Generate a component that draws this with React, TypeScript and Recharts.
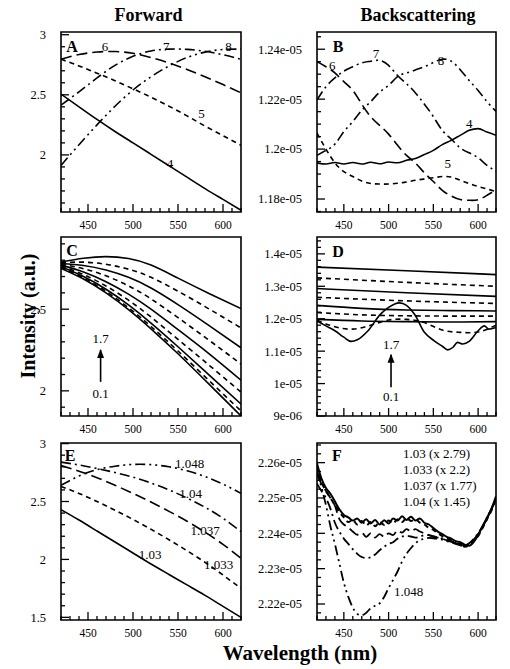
import React from 'react';
import { LineChart, Line, XAxis, YAxis, ReferenceArea, ReferenceDot, ReferenceLine } from 'recharts';

const FONT = "'Liberation Serif', 'Times New Roman', serif";
const TM = 2;

// ---------- shared x axis ----------
const xTicks = [420, 430, 440, 450, 460, 470, 480, 490, 500, 510, 520, 530, 540, 550, 560, 570, 580, 590, 600, 610, 620];
const xMajor = [450, 500, 550, 600];

const nm20 = [420, 440, 460, 480, 500, 520, 540, 560, 580, 600, 620];
const nm10 = [420, 430, 440, 450, 460, 470, 480, 490, 500, 510, 520, 530, 540, 550, 560, 570, 580, 590, 600, 610, 620];
const nm5 = [420, 425, 430, 435, 440, 445, 450, 455, 460, 465, 470, 475, 480, 485, 490, 495, 500, 505, 510, 515, 520, 525, 530, 535, 540, 545, 550, 555, 560, 565, 570, 575, 580, 585, 590, 595, 600, 605, 610, 615, 620];

// ---------- Panel A (forward) ----------
const aYMajor = [2, 2.5, 3];
const aYLabels = ['2', '2.5', '3'];
const aYMinor = [1.6, 1.7, 1.8, 1.9, 2.1, 2.2, 2.3, 2.4, 2.6, 2.7, 2.8, 2.9];
const a4 = [2.506, 2.40, 2.295, 2.195, 2.10, 2.005, 1.91, 1.815, 1.72, 1.63, 1.54];
const a5 = [2.796, 2.74, 2.68, 2.617, 2.55, 2.48, 2.405, 2.325, 2.24, 2.16, 2.08];
const a6 = [2.796, 2.835, 2.856, 2.86, 2.845, 2.81, 2.765, 2.71, 2.65, 2.585, 2.516];
const a7 = [2.414, 2.525, 2.64, 2.745, 2.82, 2.865, 2.88, 2.878, 2.862, 2.833, 2.796];
const a8 = [1.913, 2.085, 2.25, 2.405, 2.54, 2.65, 2.74, 2.81, 2.855, 2.877, 2.88];

// ---------- Panel B (backscattering, x1e-5) ----------
const bYMajor = [1.18, 1.2, 1.22, 1.24];
const bYLabels = ['1.18e-05', '1.2e-05', '1.22e-05', '1.24e-05'];
const bYMinor = [1.175, 1.185, 1.19, 1.195, 1.205, 1.21, 1.215, 1.225, 1.23, 1.235, 1.245];
const b4 = [1.1945, 1.194, 1.1946, 1.194, 1.1946, 1.194, 1.1947, 1.1941, 1.1948, 1.1945, 1.1955, 1.1962, 1.1978, 1.1995, 1.2018, 1.2035, 1.2055, 1.2075, 1.2082, 1.2068, 1.2055];
const b5 = [1.2064, 1.2, 1.1945, 1.191, 1.189, 1.1872, 1.1862, 1.186, 1.186, 1.1863, 1.1868, 1.1875, 1.188, 1.1885, 1.189, 1.1888, 1.1875, 1.1862, 1.185, 1.184, 1.183];
const b6 = [1.235, 1.233, 1.2305, 1.227, 1.2235, 1.218, 1.213, 1.2095, 1.206, 1.2015, 1.1975, 1.1944, 1.1905, 1.187, 1.1835, 1.1812, 1.1798, 1.1795, 1.1797, 1.1815, 1.1837];
const b7 = [1.2197, 1.225, 1.2285, 1.2312, 1.233, 1.2345, 1.2352, 1.2355, 1.2335, 1.2295, 1.2262, 1.2225, 1.218, 1.213, 1.2075, 1.204, 1.2005, 1.1985, 1.1965, 1.1935, 1.1911];
const b8 = [1.1975, 1.1995, 1.202, 1.207, 1.211, 1.2155, 1.219, 1.2228, 1.2255, 1.229, 1.2305, 1.2317, 1.233, 1.2347, 1.236, 1.2352, 1.2318, 1.2275, 1.2235, 1.219, 1.2151];

// ---------- Panel C ----------
const cYMajor = [2, 2.5];
const cYLabels = ['2', '2.5'];
const cYMinor = [1.9, 2.1, 2.2, 2.3, 2.4, 2.6, 2.7, 2.8, 2.9];
const cX = [420, 445, 470, 495, 520, 550, 585, 620];
const c01 = [2.75, 2.685, 2.60, 2.4975, 2.38, 2.227, 2.038, 1.846];
const c03 = [2.755, 2.692, 2.609, 2.509, 2.394, 2.244, 2.06, 1.877];
const c05 = [2.76, 2.70, 2.622, 2.526, 2.415, 2.27, 2.095, 1.919];
const c07 = [2.765, 2.712, 2.642, 2.555, 2.452, 2.315, 2.155, 1.992];
const c09 = [2.77, 2.728, 2.668, 2.592, 2.50, 2.375, 2.225, 2.065];
const c11 = [2.775, 2.748, 2.704, 2.643, 2.563, 2.448, 2.308, 2.164];
const c13 = [2.78, 2.768, 2.74, 2.695, 2.63, 2.528, 2.398, 2.264];
const c15 = [2.785, 2.788, 2.775, 2.745, 2.695, 2.61, 2.50, 2.385];
const c17 = [2.79, 2.812, 2.822, 2.81, 2.77, 2.69, 2.595, 2.504];

// ---------- Panel D (x1e-5) ----------
const dYMajor = [0.9, 1.0, 1.1, 1.2, 1.3, 1.4];
const dYLabels = ['9e-06', '1e-05', '1.1e-05', '1.2e-05', '1.3e-05', '1.4e-05'];
const dYMinor = [0.92, 0.94, 0.96, 0.98, 1.02, 1.04, 1.06, 1.08, 1.12, 1.14, 1.16, 1.18, 1.22, 1.24, 1.26, 1.28, 1.32, 1.34, 1.36, 1.38, 1.42, 1.44];
const dFlatX = [420, 520, 620];
const dCurvX = [420, 470, 520, 570, 620];
const d17 = [1.359, 1.348, 1.336];
const d15 = [1.326, 1.312, 1.300];
const d13 = [1.293, 1.280, 1.269];
const d11 = [1.266, 1.255, 1.247];
const d09 = [1.241, 1.232, 1.227, 1.225, 1.224];
const d07 = [1.219, 1.212, 1.209, 1.208, 1.208];
const d05 = [1.198, 1.193, 1.191, 1.190, 1.191];
const d03 = [1.195, 1.175, 1.168, 1.180, 1.196, 1.198, 1.188, 1.165, 1.158, 1.159, 1.18];
const d01X = [420, 430, 440, 450, 458, 465, 477, 491, 500, 512, 520, 529, 540, 551, 560, 566, 572, 577, 583, 590, 600, 607, 612, 620];
const d01 = [1.193, 1.178, 1.163, 1.143, 1.130, 1.135, 1.163, 1.214, 1.235, 1.249, 1.241, 1.214, 1.158, 1.132, 1.115, 1.104, 1.112, 1.127, 1.122, 1.130, 1.163, 1.178, 1.168, 1.173];

// ---------- Panel E ----------
const eYMajor = [1.5, 2, 2.5, 3];
const eYLabels = ['1.5', '2', '2.5', '3'];
const eYMinor = [1.6, 1.7, 1.8, 1.9, 2.1, 2.2, 2.3, 2.4, 2.6, 2.7, 2.8, 2.9];
const e1030 = [2.43, 2.34, 2.245, 2.15, 2.055, 1.96, 1.87, 1.78, 1.69, 1.595, 1.50];
const e1033 = [2.63, 2.57, 2.50, 2.425, 2.345, 2.26, 2.17, 2.075, 1.975, 1.865, 1.75];
const e1037 = [2.81, 2.762, 2.705, 2.64, 2.57, 2.495, 2.415, 2.33, 2.235, 2.13, 2.01];
const e1040 = [2.84, 2.815, 2.785, 2.75, 2.71, 2.66, 2.60, 2.53, 2.45, 2.355, 2.24];
const e1048 = [2.64, 2.72, 2.775, 2.805, 2.82, 2.818, 2.80, 2.765, 2.715, 2.65, 2.57];

// ---------- Panel F (x1e-5) ----------
const fYMajor = [2.22, 2.23, 2.24, 2.25, 2.26];
const fYLabels = ['2.22e-05', '2.23e-05', '2.24e-05', '2.25e-05', '2.26e-05'];
const fYMinor = [2.2175, 2.2225, 2.225, 2.2275, 2.2325, 2.235, 2.2375, 2.2425, 2.245, 2.2475, 2.2525, 2.255, 2.2575, 2.2625, 2.265];
const f1030 = [2.2598, 2.2555, 2.2528, 2.2512, 2.249, 2.2468, 2.2452, 2.2445, 2.2436, 2.2442, 2.243, 2.244, 2.2428, 2.2438, 2.2425, 2.2437, 2.2428, 2.2442, 2.2436, 2.2448, 2.2438, 2.2447, 2.2436, 2.2442, 2.243, 2.2425, 2.2415, 2.2405, 2.2398, 2.239, 2.2385, 2.2378, 2.2375, 2.2368, 2.2365, 2.2375, 2.2395, 2.242, 2.2445, 2.247, 2.2505];
const f1033 = [2.259, 2.2545, 2.252, 2.25, 2.248, 2.246, 2.2445, 2.2432, 2.2438, 2.2425, 2.2435, 2.2422, 2.2432, 2.242, 2.2432, 2.2424, 2.2436, 2.2428, 2.244, 2.2432, 2.2443, 2.2435, 2.244, 2.243, 2.2425, 2.2415, 2.241, 2.24, 2.2392, 2.2385, 2.238, 2.2372, 2.237, 2.2362, 2.2368, 2.238, 2.2392, 2.2415, 2.244, 2.2465, 2.2498];
const f1037 = [2.2565, 2.254, 2.252, 2.25, 2.2478, 2.244, 2.2425, 2.2417, 2.2405, 2.2396, 2.2402, 2.239, 2.24, 2.2388, 2.2398, 2.239, 2.24, 2.2395, 2.2408, 2.2402, 2.2412, 2.2405, 2.2412, 2.2405, 2.24, 2.2395, 2.239, 2.2388, 2.2385, 2.238, 2.2378, 2.2374, 2.237, 2.2365, 2.237, 2.2382, 2.2398, 2.2418, 2.2442, 2.2468, 2.25];
const f1040 = [2.254, 2.252, 2.25, 2.247, 2.243, 2.2405, 2.2385, 2.237, 2.2355, 2.2342, 2.2333, 2.233, 2.2332, 2.234, 2.2352, 2.2362, 2.237, 2.2375, 2.2385, 2.2391, 2.2393, 2.2391, 2.2388, 2.239, 2.2395, 2.2395, 2.2392, 2.2388, 2.2385, 2.238, 2.2376, 2.2372, 2.2368, 2.2366, 2.2372, 2.2384, 2.24, 2.242, 2.2445, 2.247, 2.2502];
const f1048 = [2.258, 2.253, 2.248, 2.242, 2.237, 2.2315, 2.226, 2.222, 2.219, 2.2172, 2.2168, 2.2175, 2.2188, 2.2195, 2.2202, 2.222, 2.2245, 2.2268, 2.2292, 2.232, 2.2342, 2.2358, 2.2372, 2.238, 2.2385, 2.2387, 2.2386, 2.2384, 2.2382, 2.2378, 2.2374, 2.237, 2.2366, 2.2363, 2.2365, 2.2378, 2.2396, 2.2418, 2.2442, 2.2468, 2.25];

// ---------- styles ----------
const SOLID = undefined;
const SHORT = '5 4';
const LONG = '11 5';
const DASHDOT = '10 4 2 4';
const DASHDOTDOT = '10 4 2 4 2 4';

const pts = (xs: number[], ys: number[]) => xs.map((x, i) => ({ x, y: ys[i] }));

type Series = { xs: number[]; ys: number[]; dash?: string; w?: number; curve?: any };
type Note = { x: number; y: number; text: string; anchor?: 'start' | 'middle' | 'end'; size?: number };
type Arrow = { x: number; y0: number; y1: number };

const xTick = (p: any) => {
  const v = p.payload.value;
  const major = xMajor.indexOf(v) >= 0;
  const ay = p.y - TM;
  return (
    <g>
      <line x1={p.x} x2={p.x} y1={ay} y2={ay - (major ? 8 : 4)} stroke="#000" strokeWidth={1.3} />
      {major ? (
        <text x={p.x} y={ay + 16.5} textAnchor="middle" fontSize={11.5} fontFamily={FONT} fill="#000">{v}</text>
      ) : null}
    </g>
  );
};

const makeYTick = (majors: number[], labels: string[]) => (p: any) => {
  const v = p.payload.value;
  const idx = majors.findIndex((m) => Math.abs(m - v) < 1e-7);
  const ax = p.x + TM;
  return (
    <g>
      <line x1={ax} x2={ax + (idx >= 0 ? 8 : 4)} y1={p.y} y2={p.y} stroke="#000" strokeWidth={1.3} />
      {idx >= 0 ? (
        <text x={ax - 15} y={p.y} dy="0.35em" textAnchor="end" fontSize={12.5} fontFamily={FONT} fill="#000">{labels[idx]}</text>
      ) : null}
    </g>
  );
};

function Panel(props: {
  box: number[];
  yDomain: number[];
  yMajor: number[];
  yLabels: string[];
  yMinor: number[];
  series: Series[];
  notes: Note[];
  arrow?: Arrow;
}) {
  const { box, yDomain, yMajor, yLabels, yMinor, series, notes, arrow } = props;
  const W = box[2] - box[0] + 70;
  const H = box[3] - box[1] + 35;
  return (
    <div style={{ position: 'absolute', left: box[0] - 60, top: box[1] - 10 }}>
      <LineChart width={W} height={H} margin={{ top: 10, right: 10, left: 0, bottom: 0 }}>
        <XAxis dataKey="x" type="number" domain={[420, 620]} ticks={xTicks} interval={0} tickSize={0} tickMargin={TM}
          axisLine={false} tickLine={false} tick={xTick} height={25} allowDataOverflow />
        <YAxis type="number" domain={yDomain} ticks={[...yMinor, ...yMajor]} interval={0} tickSize={0} tickMargin={TM}
          axisLine={false} tickLine={false} tick={makeYTick(yMajor, yLabels)} width={60} allowDataOverflow />
        <ReferenceArea x1={420} x2={620} y1={yDomain[0]} y2={yDomain[1]} fill="none" fillOpacity={0} stroke="#000" strokeWidth={1.6} ifOverflow="visible" />
        {series.map((s, i) => (
          <Line key={i} data={pts(s.xs, s.ys)} dataKey="y" type={s.curve || 'natural'} dot={false} stroke="#000"
            strokeWidth={s.w || 1.6} strokeDasharray={s.dash} isAnimationActive={false} />
        ))}
        {notes.map((n, i) => (
          <ReferenceDot key={'n' + i} x={n.x} y={n.y} r={1} ifOverflow="visible"
            shape={(p: any) => (
              <text x={p.cx} y={p.cy} dy="0.35em" textAnchor={n.anchor || 'middle'} fontSize={n.size || 13} fontFamily={FONT} fill="#000">{n.text}</text>
            )} />
        ))}
        {arrow ? (
          <ReferenceLine segment={[{ x: arrow.x, y: arrow.y0 }, { x: arrow.x, y: arrow.y1 }]} stroke="#000" strokeWidth={1.6} ifOverflow="visible" />
        ) : null}
        {arrow ? (
          <ReferenceDot x={arrow.x} y={arrow.y1} r={1} ifOverflow="visible"
            shape={(p: any) => <path d={`M${p.cx},${p.cy - 1} l-3.5,9 l7,0 z`} fill="#000" />} />
        ) : null}
      </LineChart>
    </div>
  );
}

export default function App() {
  const txt = { fontFamily: FONT, fill: '#000' } as any;
  return (
    <div style={{ position: 'absolute', left: 0, top: 0, width: 510, height: 669, background: '#fff', overflow: 'hidden' }}>
      <Panel box={[61, 32, 241, 212]} yDomain={[1.525, 3.0225]} yMajor={aYMajor} yLabels={aYLabels} yMinor={aYMinor}
        series={[
          { xs: nm20, ys: a4, dash: SOLID },
          { xs: nm20, ys: a5, dash: SHORT },
          { xs: nm20, ys: a6, dash: LONG },
          { xs: nm20, ys: a7, dash: DASHDOT },
          { xs: nm20, ys: a8, dash: DASHDOTDOT },
        ]}
        notes={[
          { x: 469, y: 2.9, text: '6' },
          { x: 537, y: 2.9, text: '7' },
          { x: 606, y: 2.9, text: '8' },
          { x: 576, y: 2.348, text: '5' },
          { x: 541, y: 1.93, text: '4' },
        ]} />
      <Panel box={[317, 32, 496, 212]} yDomain={[1.1748, 1.2469]} yMajor={bYMajor} yLabels={bYLabels} yMinor={bYMinor}
        series={[
          { xs: nm10, ys: b4, dash: SOLID, curve: 'monotone' },
          { xs: nm10, ys: b5, dash: SHORT },
          { xs: nm10, ys: b6, dash: LONG },
          { xs: nm10, ys: b7, dash: DASHDOT },
          { xs: nm10, ys: b8, dash: DASHDOTDOT },
        ]}
        notes={[
          { x: 437, y: 1.2337, text: '6' },
          { x: 486, y: 1.2384, text: '7' },
          { x: 558.5, y: 1.2357, text: '8' },
          { x: 590, y: 1.2104, text: '4' },
          { x: 566, y: 1.1944, text: '5' },
        ]} />
      <Panel box={[61, 237, 241, 416]} yDomain={[1.846, 2.942]} yMajor={cYMajor} yLabels={cYLabels} yMinor={cYMinor}
        series={[
          { xs: cX, ys: c01, dash: SOLID },
          { xs: cX, ys: c03, dash: SHORT },
          { xs: cX, ys: c05, dash: SOLID },
          { xs: cX, ys: c07, dash: SHORT },
          { xs: cX, ys: c09, dash: SOLID },
          { xs: cX, ys: c11, dash: SHORT },
          { xs: cX, ys: c13, dash: SOLID },
          { xs: cX, ys: c15, dash: SHORT },
          { xs: cX, ys: c17, dash: SOLID },
        ]}
        notes={[
          { x: 464, y: 2.32, text: '1.7' },
          { x: 464, y: 1.984, text: '0.1' },
        ]}
        arrow={{ x: 464, y0: 2.055, y1: 2.25 }} />
      <Panel box={[317, 237, 496, 416]} yDomain={[0.9, 1.452]} yMajor={dYMajor} yLabels={dYLabels} yMinor={dYMinor}
        series={[
          { xs: dFlatX, ys: d17, dash: SOLID },
          { xs: dFlatX, ys: d15, dash: SHORT },
          { xs: dFlatX, ys: d13, dash: SOLID },
          { xs: dFlatX, ys: d11, dash: SHORT },
          { xs: dCurvX, ys: d09, dash: SOLID },
          { xs: dCurvX, ys: d07, dash: SHORT },
          { xs: dCurvX, ys: d05, dash: SOLID },
          { xs: nm20, ys: d03, dash: SHORT },
          { xs: d01X, ys: d01, dash: SOLID, curve: 'monotone' },
        ]}
        notes={[
          { x: 502.7, y: 1.122, text: '1.7' },
          { x: 502.7, y: 0.959, text: '0.1' },
        ]}
        arrow={{ x: 502.7, y0: 0.989, y1: 1.089 }} />
      <Panel box={[61, 443, 241, 620]} yDomain={[1.477, 3.005]} yMajor={eYMajor} yLabels={eYLabels} yMinor={eYMinor}
        series={[
          { xs: nm20, ys: e1030, dash: SOLID },
          { xs: nm20, ys: e1033, dash: SHORT },
          { xs: nm20, ys: e1037, dash: LONG },
          { xs: nm20, ys: e1040, dash: DASHDOT },
          { xs: nm20, ys: e1048, dash: DASHDOTDOT },
        ]}
        notes={[
          { x: 563, y: 2.83, text: '1.048' },
          { x: 564, y: 2.57, text: '1.04' },
          { x: 580, y: 2.25, text: '1.037' },
          { x: 595, y: 1.96, text: '1.033' },
          { x: 519, y: 2.04, text: '1.03' },
        ]} />
      <Panel box={[317, 443, 496, 620]} yDomain={[2.21547, 2.26556]} yMajor={fYMajor} yLabels={fYLabels} yMinor={fYMinor}
        series={[
          { xs: nm5, ys: f1048, dash: DASHDOTDOT, w: 1.8, curve: 'monotone' },
          { xs: nm5, ys: f1040, dash: DASHDOT, w: 1.8, curve: 'monotone' },
          { xs: nm5, ys: f1037, dash: LONG, w: 1.8, curve: 'monotone' },
          { xs: nm5, ys: f1033, dash: SHORT, w: 2, curve: 'monotone' },
          { xs: nm5, ys: f1030, dash: SOLID, w: 2, curve: 'monotone' },
        ]}
        notes={[
          { x: 516, y: 2.2626, text: '1.03 (x 2.79)', anchor: 'start' },
          { x: 516, y: 2.2582, text: '1.033 (x 2.2)', anchor: 'start' },
          { x: 516, y: 2.2535, text: '1.037 (x 1.77)', anchor: 'start' },
          { x: 516, y: 2.249, text: '1.04 (x 1.45)', anchor: 'start' },
          { x: 506, y: 2.2235, text: '1.048', anchor: 'start' },
        ]} />
      <svg width={510} height={669} style={{ position: 'absolute', left: 0, top: 0, pointerEvents: 'none' }}>
        <text {...txt} x={148.5} y={15} dy="0.35em" textAnchor="middle" fontSize={18} fontWeight="bold">Forward</text>
        <text {...txt} x={418} y={15} dy="0.35em" textAnchor="middle" fontSize={18} fontWeight="bold">Backscattering</text>
        <text {...txt} x={0} y={0} dy="0.35em" textAnchor="middle" fontSize={20} fontWeight="bold"
          transform="translate(28,316) rotate(-90)">Intensity (a.u.)</text>
        <text {...txt} x={300} y={653} dy="0.35em" textAnchor="middle" fontSize={21} fontWeight="bold">Wavelength (nm)</text>
        <text {...txt} x={72} y={46.5} dy="0.35em" textAnchor="middle" fontSize={16} fontWeight="bold">A</text>
        <text {...txt} x={338} y={46.5} dy="0.35em" textAnchor="middle" fontSize={16} fontWeight="bold">B</text>
        <text {...txt} x={72} y={250} dy="0.35em" textAnchor="middle" fontSize={16} fontWeight="bold">C</text>
        <text {...txt} x={338} y={251.5} dy="0.35em" textAnchor="middle" fontSize={16} fontWeight="bold">D</text>
        <text {...txt} x={70} y={455} dy="0.35em" textAnchor="middle" fontSize={16} fontWeight="bold">E</text>
        <text {...txt} x={337} y={455} dy="0.35em" textAnchor="middle" fontSize={16} fontWeight="bold">F</text>
      </svg>
    </div>
  );
}
